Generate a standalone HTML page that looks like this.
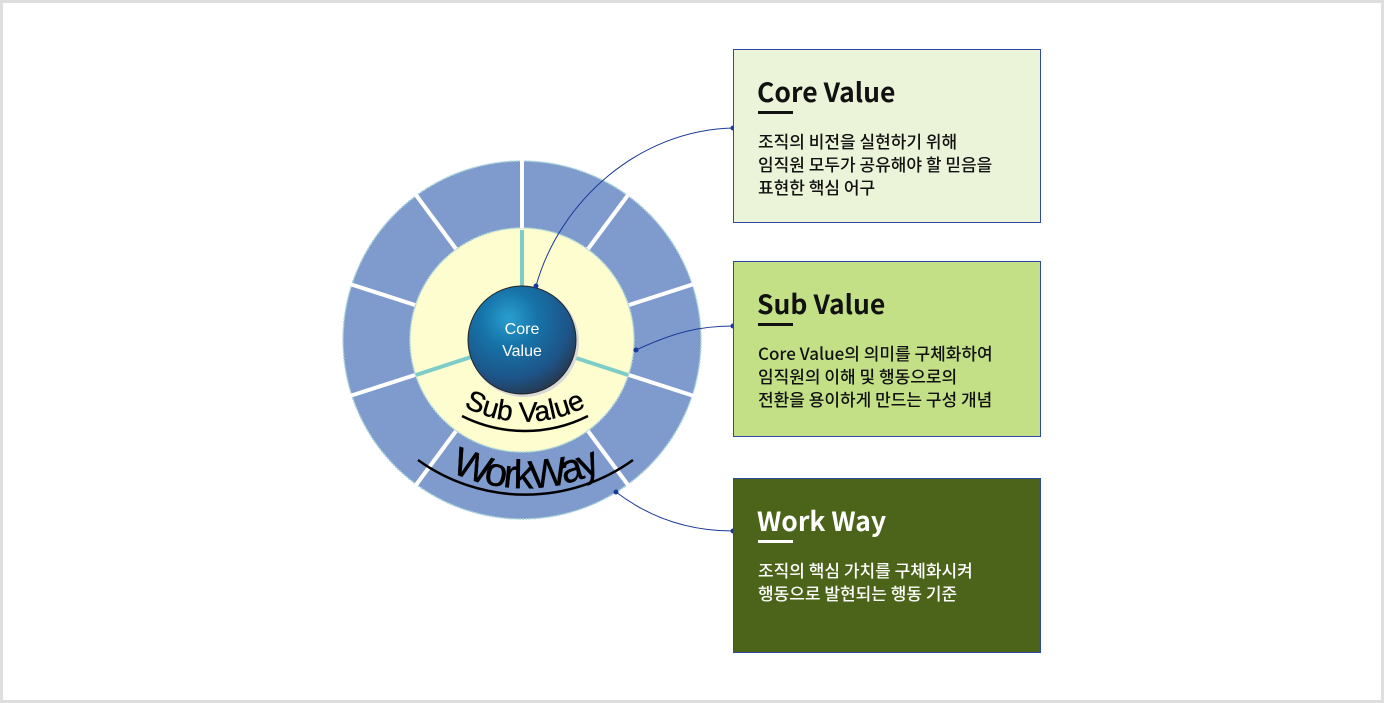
<!DOCTYPE html>
<html><head><meta charset="utf-8"><style>
html,body{margin:0;padding:0;background:#fff;}
.wrap{position:relative;width:1384px;height:703px;overflow:hidden;background:#fff;}
.frame{position:absolute;left:0;top:0;width:1378px;height:697px;border:3px solid #dedede;}
.box{position:absolute;left:733px;width:308px;border:1px solid #2e4a9e;box-sizing:border-box;font-family:"Liberation Sans","Noto Sans CJK KR",sans-serif;}
.box h2{margin:0;position:absolute;left:23px;top:24px;font-family:"Noto Sans CJK KR","Liberation Sans",sans-serif;font-weight:700;font-size:26.5px;line-height:34px;}
.box .ul{position:absolute;left:24px;top:61px;width:35px;height:3px;}
.box p{margin:0;position:absolute;left:24px;top:79px;font-family:"Noto Sans CJK KR",sans-serif;font-size:17px;line-height:23px;font-weight:500;white-space:nowrap;}
</style></head><body><div class="wrap">
<div class="frame"></div>
<svg width="1384" height="703" style="position:absolute;left:0;top:0">
<defs>
<radialGradient id="sph" cx="0.38" cy="0.3" r="0.75">
<stop offset="0" stop-color="#2a9fd0"/><stop offset="0.35" stop-color="#1673a8"/><stop offset="0.75" stop-color="#1d5488"/><stop offset="1" stop-color="#27354a"/>
</radialGradient>
<path id="subarc" d="M 412 357 A 131 131 0 0 0 638 357"/>
<path id="workarc" d="M 373 400 A 175 175 0 0 0 677 400"/>
</defs>
<circle cx="522" cy="340" r="179" fill="#7f9bcd" stroke="#a9d4d8" stroke-width="1.5" stroke-dasharray="2 1"/>
<circle cx="522" cy="340" r="112" fill="#fdfdd0" stroke="#b9e0d8" stroke-width="1.5" stroke-dasharray="2 1"/>
<g stroke="#fff" stroke-width="4">
<line x1="522" y1="228" x2="522" y2="160"/>
<line x1="588" y1="249" x2="628" y2="195"/>
<line x1="629" y1="305" x2="694" y2="284"/>
<line x1="629" y1="375" x2="694" y2="396"/>
<line x1="588" y1="431" x2="628" y2="485"/>
<line x1="456" y1="431" x2="416" y2="485"/>
<line x1="415" y1="375" x2="350" y2="396"/>
<line x1="415" y1="305" x2="350" y2="284"/>
<line x1="456" y1="249" x2="416" y2="195"/>
</g>
<g stroke="#7ccdc8" stroke-width="4">
<line x1="522" y1="286" x2="522" y2="230"/>
<line x1="573" y1="357" x2="628" y2="375"/>
<line x1="471" y1="357" x2="416" y2="375"/>
</g>
<circle cx="524" cy="342" r="55" fill="#d8d8d8"/>
<circle cx="522" cy="340" r="54" fill="url(#sph)" stroke="#222" stroke-width="1"/>
<text x="522" y="334" text-anchor="middle" font-family="Liberation Sans,sans-serif" font-size="16" fill="#fff">Core</text>
<text x="522" y="356" text-anchor="middle" font-family="Liberation Sans,sans-serif" font-size="16" fill="#fff">Value</text>
<path d="M 462 416 A 140 140 0 0 0 588 416" fill="none" stroke="#000" stroke-width="2.5"/>
<text font-family="Liberation Sans,sans-serif" font-size="28" fill="#000" stroke="#000" stroke-width="0.4"><textPath href="#subarc" startOffset="50%" text-anchor="middle">Sub Value</textPath></text>
<path d="M 418 460 A 184 184 0 0 0 633 460" fill="none" stroke="#000" stroke-width="2.5"/>
<text font-family="Liberation Sans,sans-serif" font-size="40" letter-spacing="-2.5" fill="#000" stroke="#000" stroke-width="0.4"><textPath href="#workarc" startOffset="50%" text-anchor="middle">WorkWay</textPath></text>
<g fill="none" stroke="#1a3a9a" stroke-width="1">
<path d="M536 286 C 560 200 640 130 733 128"/>
<path d="M636 350 C 675 332 700 326 733 326"/>
<path d="M616 492 C 650 518 690 531 733 531"/>
</g>
<g fill="#1a3a9a">
<circle cx="536" cy="286" r="2.5"/><circle cx="733" cy="128" r="2.5"/>
<circle cx="636" cy="350" r="2.5"/><circle cx="733" cy="326" r="2.5"/>
<circle cx="616" cy="492" r="2.5"/><circle cx="733" cy="531" r="2.5"/>
</g>
</svg>
<div class="box" style="top:49px;height:174px;background:#ebf4d8;color:#111;">
<h2>Core Value</h2><div class="ul" style="background:#111"></div>
<p>조직의 비전을 실현하기 위해<br>임직원 모두가 공유해야 할 믿음을<br>표현한 핵심 어구</p></div>
<div class="box" style="top:261px;height:176px;background:#c4e087;color:#111;">
<h2>Sub Value</h2><div class="ul" style="background:#111"></div>
<p>Core Value의 의미를 구체화하여<br>임직원의 이해 및 행동으로의<br>전환을 용이하게 만드는 구성 개념</p></div>
<div class="box" style="top:478px;height:175px;background:#4b6419;color:#fff;">
<h2>Work Way</h2><div class="ul" style="background:#fff"></div>
<p>조직의 핵심 가치를 구체화시켜<br>행동으로 발현되는 행동 기준</p></div>
</div></body></html>
